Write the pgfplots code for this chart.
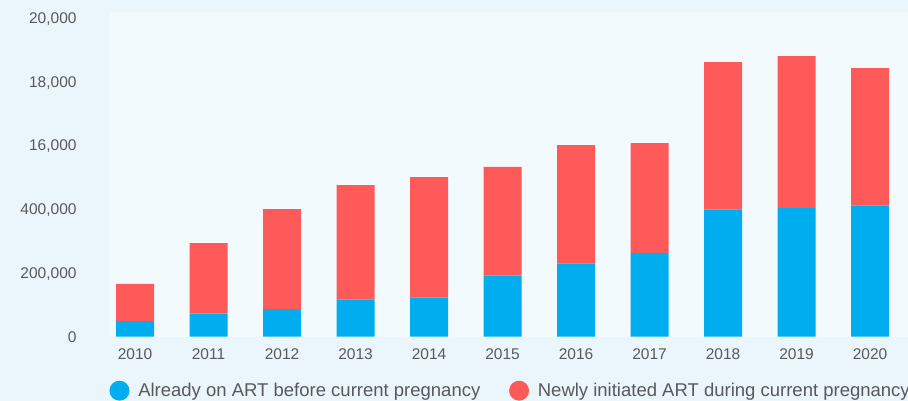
\documentclass[border=0pt]{standalone}
\usepackage{fontspec}
\setmainfont{Liberation Sans}
\usepackage{pgfplots}
\pgfplotsset{compat=1.18}
\definecolor{outerbg}{RGB}{234,246,252}
\definecolor{plotbg}{RGB}{243,250,253}
\definecolor{cblue}{RGB}{0,174,239}
\definecolor{cred}{RGB}{255,90,90}
\definecolor{tgray}{RGB}{88,89,91}
\begin{document}
\begin{tikzpicture}
\fill[outerbg] (0,0) rectangle (908pt,401pt);
\useasboundingbox (0,0) rectangle (908pt,401pt);
\begin{axis}[
  at={(109pt,64.3pt)}, anchor=south west,
  scale only axis, width=799pt, height=324.7pt,
  xmin=-0.354, xmax=10.517,
  ymin=0, ymax=1017900,
  ybar stacked, bar width=38pt,
  axis line style={draw=none},
  axis background/.style={fill=plotbg},
  tick style={draw=none},
  xtick={0,1,2,3,4,5,6,7,8,9,10},
  xticklabels={2010,2011,2012,2013,2014,2015,2016,2017,2018,2019,2020},
  ytick={0,200000,400000,600000,800000,1000000},
  yticklabels={0,{200,000},{400,000},{16,000},{18,000},{20,000}},
  scaled y ticks=false,
  tick label style={font=\fontsize{15.5}{18}\selectfont, text=tgray},
  yticklabel style={anchor=base east, inner sep=0pt, xshift=-32.3pt, yshift=-5.5pt},
  xticklabel style={anchor=base, inner sep=0pt, yshift=-23.3pt},
  legend columns=2,
  legend cell align=left,
  legend style={draw=none, fill=none, inner sep=0pt, outer sep=0pt,
    at={(axis description cs:0.0006,-0.1663)}, anchor=west,
    font=\fontsize{18.5}{22}\selectfont, text=tgray,
    nodes={inner sep=0pt},
    /tikz/every odd column/.append style={column sep=8.8pt},
    /tikz/every even column/.append style={column sep=28.7pt}},
  legend image code/.code={\fill[#1] (0pt,-0.3pt) circle (10pt);},
]
\addplot[fill=cblue, draw=none] coordinates {
(0,49200) (1,72100) (2,86800) (3,116000) (4,122300) (5,191200)
(6,228800) (7,262400) (8,399400) (9,403400) (10,411900)};
\addlegendentry{Already on ART before current pregnancy}
\addplot[fill=cred, draw=none] coordinates {
(0,116000) (1,221600) (2,313500) (3,359500) (4,378300) (5,340800)
(6,372100) (7,344800) (8,461700) (9,476500) (10,430400)};
\addlegendentry{Newly initiated ART during current pregnancy}
\end{axis}
\end{tikzpicture}
\end{document}
